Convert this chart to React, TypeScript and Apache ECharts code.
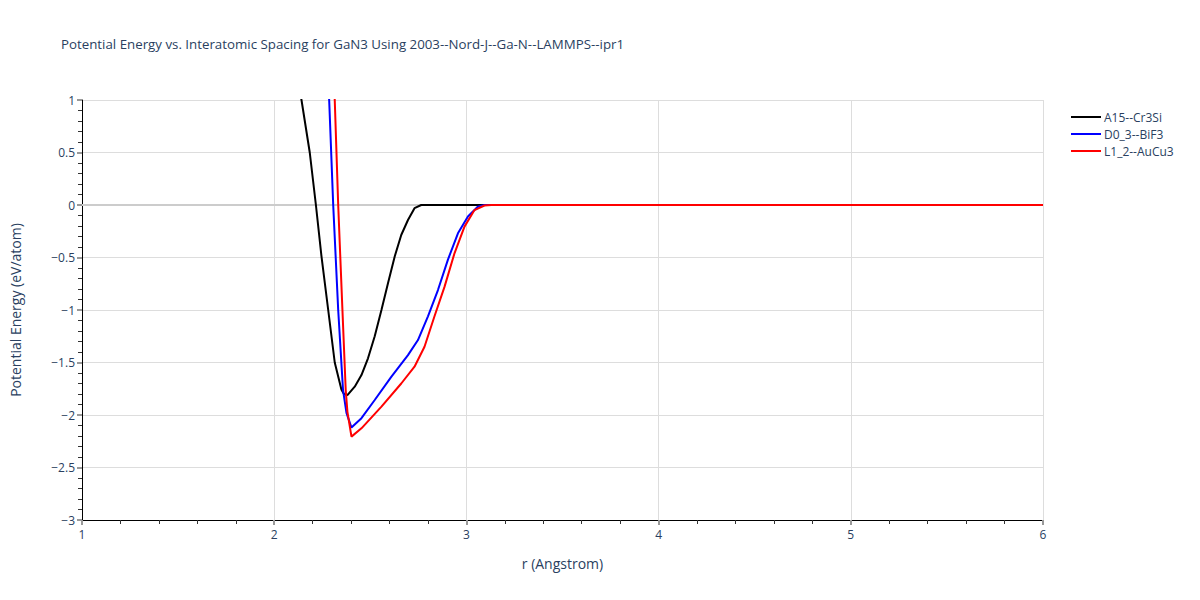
import React, { useEffect, useRef } from "react";
import * as echarts from "echarts";

const titleText =
  "Potential Energy vs. Interatomic Spacing for GaN3 Using 2003--Nord-J--Ga-N--LAMMPS--ipr1";
const seriesNames = ["A15--Cr3Si", "D0_3--BiF3", "L1_2--AuCu3"];
const seriesColors = ["#000000", "#0000ff", "#ff0000"];

const rA15 = [2.1, 2.142, 2.185, 2.217, 2.246, 2.281, 2.315, 2.35, 2.363, 2.381, 2.419, 2.454, 2.488, 2.523, 2.558, 2.592, 2.627, 2.661, 2.696, 2.73, 2.765, 2.9, 3.2, 4, 5, 6];
const eA15 = [1.4, 1.0, 0.5, 0.0, -0.49, -1.0, -1.5, -1.76, -1.8, -1.81, -1.73, -1.62, -1.46, -1.25, -1.0, -0.745, -0.49, -0.286, -0.143, -0.03, 0.0, 0.0, 0.0, 0.0, 0.0, 0.0];

const rD03 = [2.27, 2.286, 2.307, 2.333, 2.358, 2.376, 2.402, 2.454, 2.523, 2.61, 2.696, 2.748, 2.8, 2.852, 2.904, 2.956, 3.008, 3.059, 3.094, 3.2, 4, 5, 6];
const eD03 = [1.5, 1.0, 0.0, -1.0, -1.76, -1.98, -2.12, -2.03, -1.857, -1.635, -1.43, -1.286, -1.06, -0.81, -0.52, -0.27, -0.11, -0.016, 0.0, 0.0, 0.0, 0.0, 0.0];

const rL12 = [2.3, 2.315, 2.333, 2.355, 2.372, 2.381, 2.402, 2.454, 2.558, 2.661, 2.73, 2.782, 2.834, 2.886, 2.938, 2.99, 3.042, 3.094, 3.13, 3.2, 4, 5, 6];
const eL12 = [1.8, 1.0, 0.0, -1.0, -1.76, -1.97, -2.206, -2.127, -1.92, -1.7, -1.54, -1.35, -1.06, -0.78, -0.46, -0.206, -0.048, -0.005, 0.0, 0.0, 0.0, 0.0, 0.0];

const zeroLineR = [1, 6];
const zeroLineE = [0, 0];

const xAxisName = "r (Angstrom)";
const yAxisName = "Potential Energy (eV/atom)";

const FONT = "'Open Sans', 'Noto Sans', sans-serif";
const TEXT_COLOR = "#2a3f5f";

function pairs(xs: number[], ys: number[]) {
  return xs.map((x, i) => [x, ys[i]]);
}

export default function App() {
  const ref = useRef<HTMLDivElement>(null);
  useEffect(() => {
    if (!ref.current) return;
    const chart = echarts.init(ref.current, undefined, { renderer: "svg" });
    const all = [pairs(rA15, eA15), pairs(rD03, eD03), pairs(rL12, eL12)];
    const fmt = (v: number) => String(v).replace("-", "\u2212");
    chart.setOption({
      animation: false,
      backgroundColor: "#ffffff",
      title: {
        text: titleText,
        left: 56,
        top: 32,
        textStyle: { fontFamily: FONT, fontSize: 13.3, fontWeight: "normal", color: TEXT_COLOR },
      },
      legend: {
        orient: "vertical",
        left: 1066,
        top: 106,
        itemWidth: 30,
        itemHeight: 2,
        itemGap: 5,
        icon: "rect",
        data: seriesNames,
        textStyle: { fontFamily: FONT, fontSize: 12, color: TEXT_COLOR, padding: [0, 0, 0, -2] },
      },
      grid: { left: 80, right: 157, top: 100, bottom: 80, containLabel: false },
      xAxis: {
        type: "value",
        min: 1,
        max: 6,
        interval: 1,
        name: xAxisName,
        nameLocation: "middle",
        nameGap: 36,
        nameTextStyle: { fontFamily: FONT, fontSize: 14, color: TEXT_COLOR },
        axisLine: { show: true, onZero: false, lineStyle: { color: "#000", width: 1 } },
        axisTick: { show: true, length: 5, lineStyle: { color: "#999", width: 2 } },
        minorTick: { show: true, splitNumber: 5, length: 4, lineStyle: { color: "#333" } },
        axisLabel: { margin: 8, fontFamily: FONT, fontSize: 12, color: TEXT_COLOR, formatter: fmt },
        splitLine: { show: true, lineStyle: { color: "#dddddd", width: 1 } },
      },
      yAxis: {
        type: "value",
        min: -3,
        max: 1,
        interval: 0.5,
        name: yAxisName,
        nameLocation: "middle",
        nameGap: 60,
        nameTextStyle: { fontFamily: FONT, fontSize: 14, color: TEXT_COLOR },
        axisLine: { show: true, onZero: false, lineStyle: { color: "#000", width: 1 } },
        axisTick: { show: true, length: 5, lineStyle: { color: "#999", width: 2 } },
        minorTick: { show: true, splitNumber: 5, length: 4, lineStyle: { color: "#333" } },
        axisLabel: { margin: 7, fontFamily: FONT, fontSize: 12, color: TEXT_COLOR, formatter: fmt },
        splitLine: { show: true, lineStyle: { color: "#dddddd", width: 1 } },
      },
      series: [
        {
          type: "line",
          name: "__zero",
          data: pairs(zeroLineR, zeroLineE),
          silent: true,
          showSymbol: false,
          symbol: "none",
          z: 1,
          lineStyle: { color: "#cccccc", width: 2 },
          itemStyle: { color: "#cccccc" },
        },
        ...seriesNames.map((name, i) => ({
          type: "line",
          name,
          data: all[i],
          showSymbol: false,
          symbol: "none",
          clip: true,
          z: 2 + i,
          color: seriesColors[i],
          lineStyle: { color: seriesColors[i], width: 2 },
          itemStyle: { color: seriesColors[i] },
        })),
      ],
    });
    return () => chart.dispose();
  }, []);
  return (
    <div
      ref={ref}
      style={{ position: "absolute", left: 0, top: 0, width: 1200, height: 600 }}
    />
  );
}
